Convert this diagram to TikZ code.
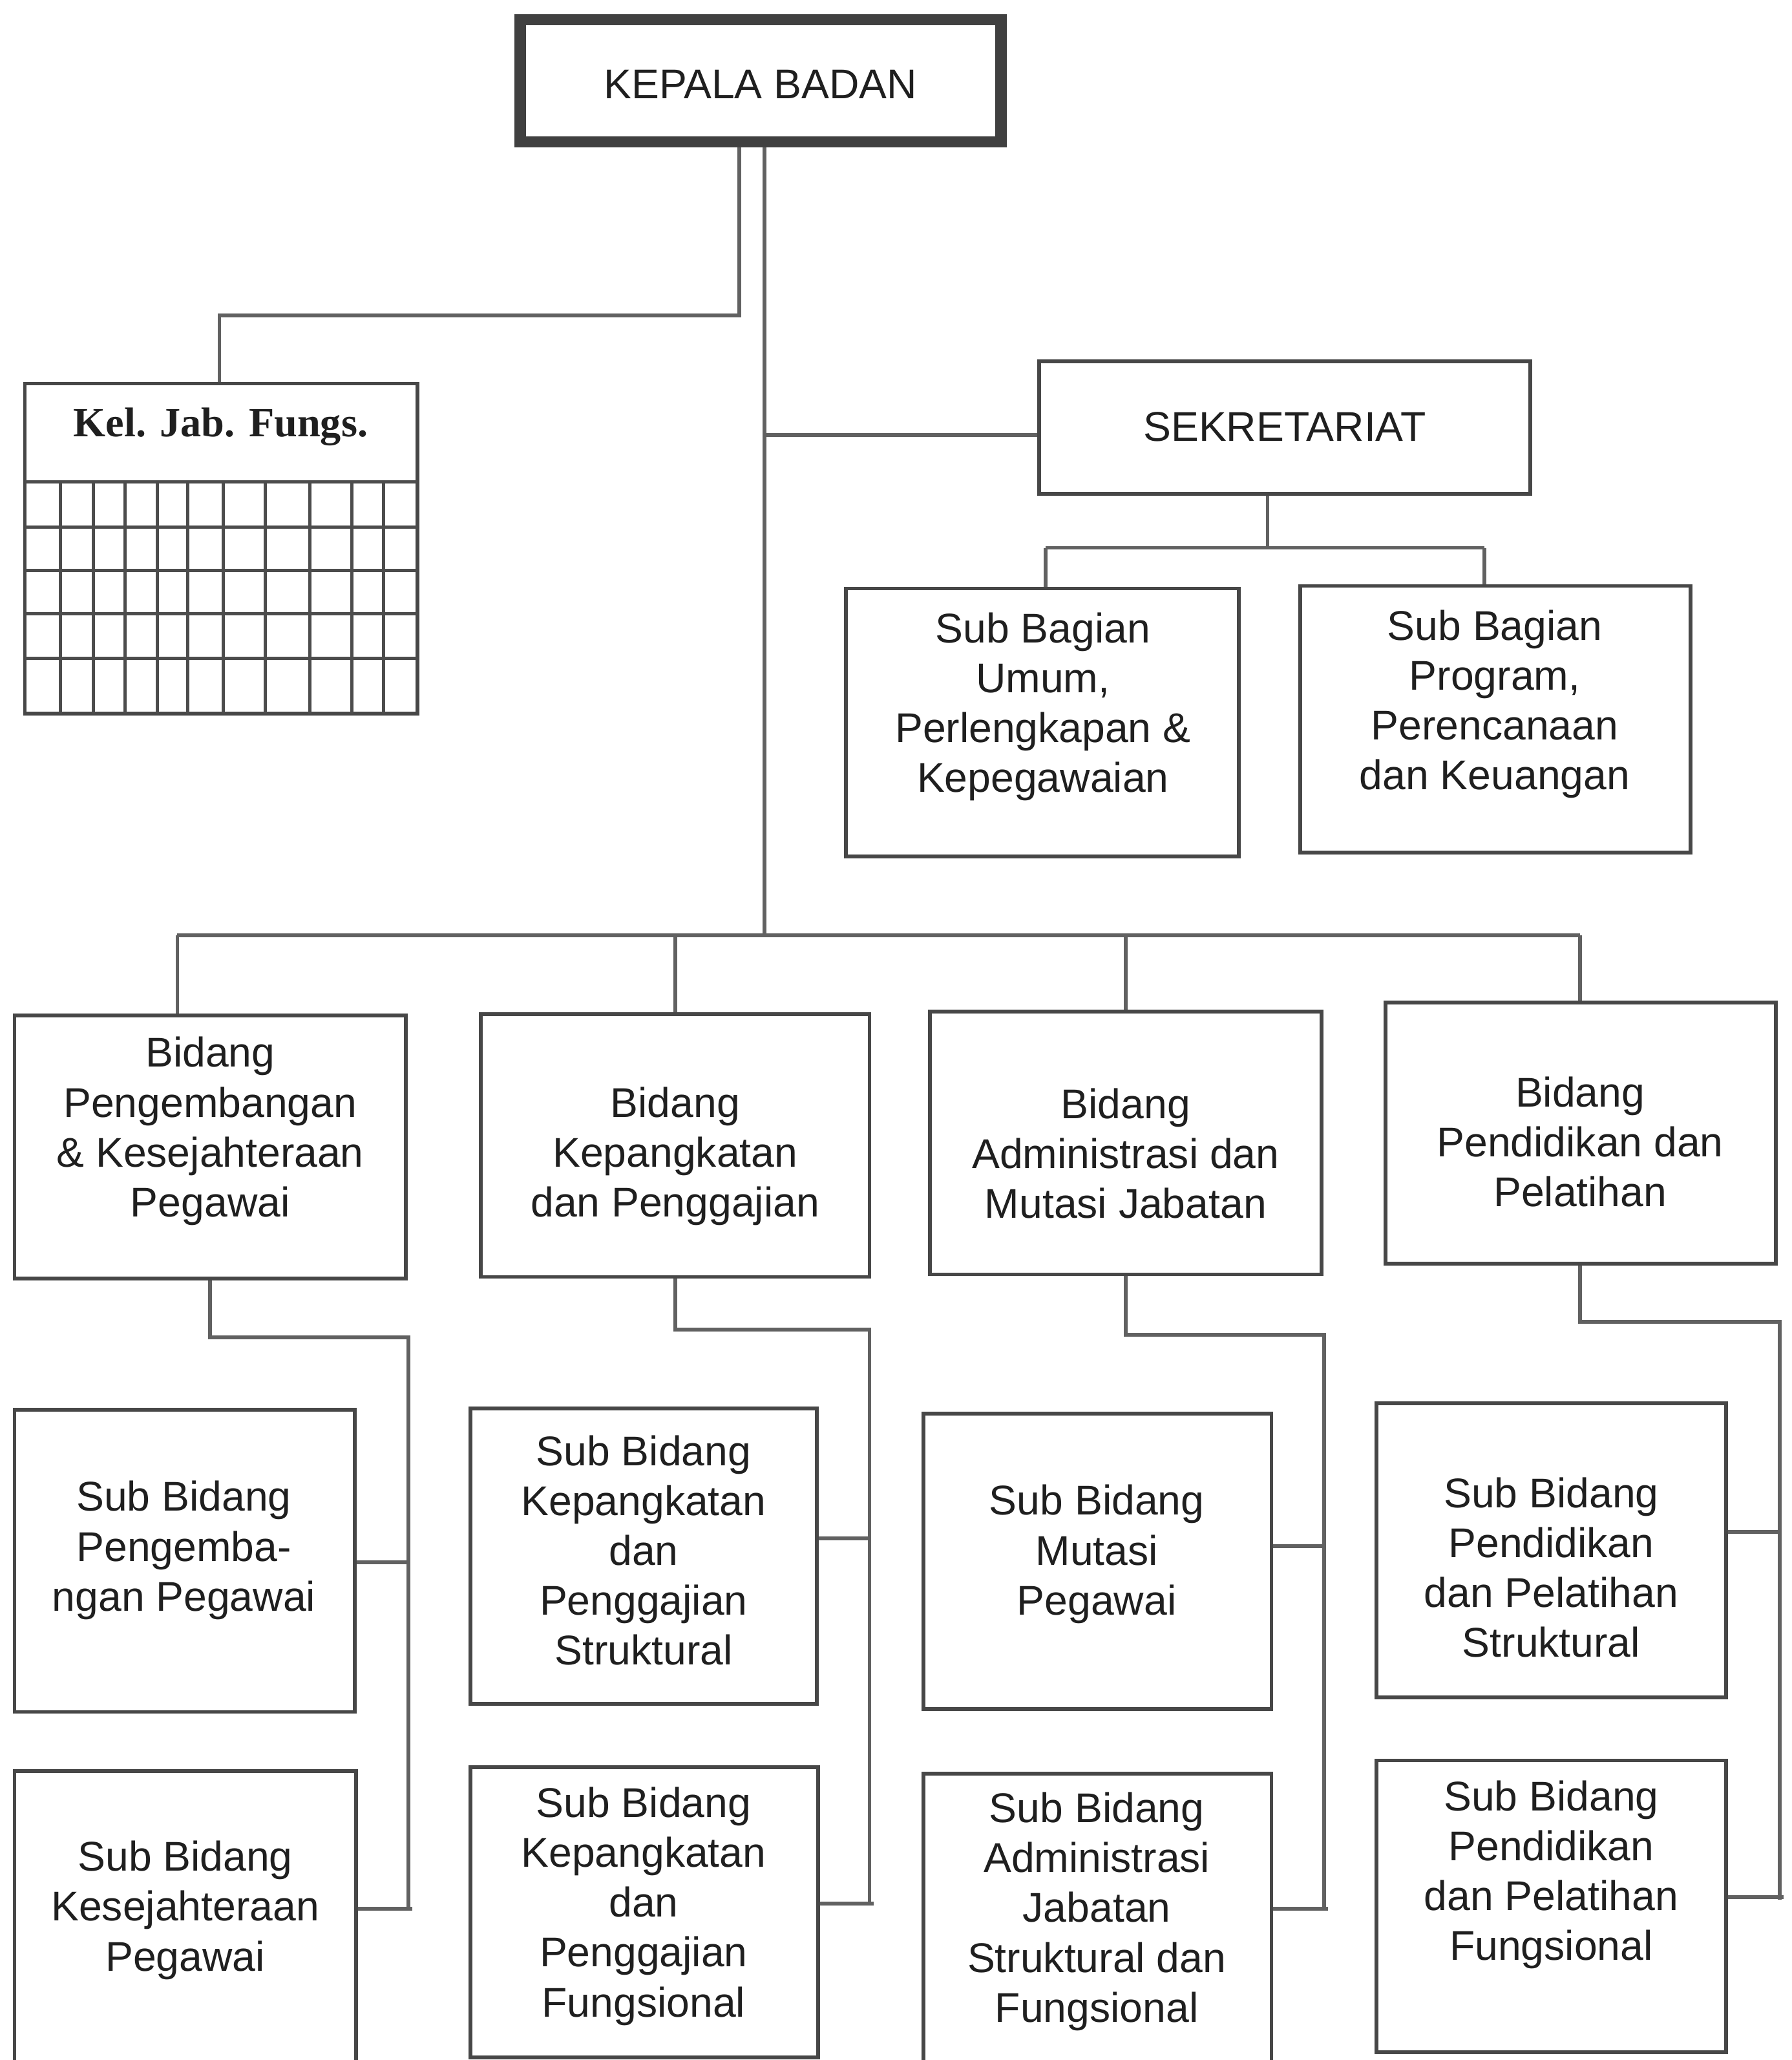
\documentclass[tikz,border=0pt]{standalone}
\usepackage{fontspec}
\setmainfont{Liberation Sans}
\newfontfamily\titleserif{Liberation Serif}
\usetikzlibrary{fit}

\begin{document}
\begin{tikzpicture}[x=0.02cm,y=-0.02cm,
  box/.style={draw=black!72, line width=1.6pt, inner sep=0pt},
  headbox/.style={draw=black!75, line width=5pt, inner sep=0pt},
  conn/.style={draw=black!62, line width=1.6pt},
  gridline/.style={draw=black!70, line width=1.4pt},
  txt/.style={font=\fontsize{18}{21.6}\selectfont, align=center, inner sep=0pt, text=black!88},
]
\useasboundingbox (0,0) rectangle (1364,1568);
\fill[white] (0,0) rectangle (1364,1568);

% ---------- top level ----------
\node[headbox, fit={(396,15) (762,108)}] (kepala) {};
\node[txt] (kepala-t) at (579,64) {KEPALA BADAN};

% functional group with grid
\node[box, fit={(19,292) (318,543)}] (kel) {};
\node[inner sep=0pt, font=\titleserif\bfseries\fontsize{18}{21.6}\selectfont, text=black!88] (kel-t) at (168,325) {Kel. Jab. Fungs.};
\draw[gridline] (19,367) -- (318,367);
\foreach \y in {401,434,467,501} \draw[gridline] (19,\y) -- (318,\y);
\foreach \x in {46,71,95,120,143,170,202,236,268,292} \draw[gridline] (\x,367) -- (\x,543);

% secretariat
\node[box, fit={(791,275) (1165,376)}] (sek) {};
\node[txt] (sek-t) at (978,325) {SEKRETARIAT};

\node[box, fit={(644,448) (943,652)}] (sbu) {};
\node[txt] (sbu-t) at (794,538) {Sub Bagian\\Umum,\\Perlengkapan \&\\Kepegawaian};
\node[box, fit={(990,446) (1287,649)}] (sbp) {};
\node[txt] (sbp-t) at (1138,536) {Sub Bagian\\Program,\\Perencanaan\\dan Keuangan};

% ---------- divisions ----------
\node[box, fit={(11,773) (309,973)}] (b1) {};
\node[txt] (b1-t) at (160,861) {Bidang\\Pengembangan\\\& Kesejahteraan\\Pegawai};
\node[box, fit={(366,772) (662,972)}] (b2) {};
\node[txt] (b2-t) at (514,880) {Bidang\\Kepangkatan\\dan Penggajian};
\node[box, fit={(708,770) (1006,970)}] (b3) {};
\node[txt] (b3-t) at (857,878) {Bidang\\Administrasi dan\\Mutasi Jabatan};
\node[box, fit={(1055,763) (1352,962)}] (b4) {};
\node[txt] (b4-t) at (1203,869) {Bidang\\Pendidikan dan\\Pelatihan};

% ---------- sub divisions ----------
\begin{scope}
\clip (0,0) rectangle (1364,1568);
\node[box, fit={(11,1073) (270,1303)}] (s1a) {};
\node[txt] (s1a-t) at (140,1180) {Sub Bidang\\Pengemba-\\ngan Pegawai};
\node[box, fit={(11,1348) (271,1600)}] (s1b) {};
\node[txt] (s1b-t) at (141,1454) {Sub Bidang\\Kesejahteraan\\Pegawai};

\node[box, fit={(358,1072) (622,1297)}] (s2a) {};
\node[txt] (s2a-t) at (490,1180) {Sub Bidang\\Kepangkatan\\dan\\Penggajian\\Struktural};
\node[box, fit={(358,1345) (623,1566)}] (s2b) {};
\node[txt] (s2b-t) at (490,1451) {Sub Bidang\\Kepangkatan\\dan\\Penggajian\\Fungsional};

\node[box, fit={(703,1076) (968,1301)}] (s3a) {};
\node[txt] (s3a-t) at (835,1183) {Sub Bidang\\Mutasi\\Pegawai};
\node[box, fit={(703,1350) (968,1600)}] (s3b) {};
\node[txt] (s3b-t) at (835,1455) {Sub Bidang\\Administrasi\\Jabatan\\Struktural dan\\Fungsional};

\node[box, fit={(1048,1068) (1314,1292)}] (s4a) {};
\node[txt] (s4a-t) at (1181,1193) {Sub Bidang\\Pendidikan\\dan Pelatihan\\Struktural};
\node[box, fit={(1048,1340) (1314,1562)}] (s4b) {};
\node[txt] (s4b-t) at (1181,1427) {Sub Bidang\\Pendidikan\\dan Pelatihan\\Fungsional};
\end{scope}

% ---------- connectors ----------
\coordinate (bus) at (582,712);
\coordinate (kelturn) at (563,240);
\coordinate (sekjoin) at (582,331);
\coordinate (sekbus) at (965,417);

% trunk and branch to the functional group
\draw[conn] (kepala.south -| bus) -- (bus);
\draw[conn] (kepala.south -| kelturn) -- (kelturn) -- (167,240) -- (kel.north -| 167,0);

% secretariat and its sub parts
\draw[conn] (sekjoin) -- (sekjoin -| sek.west);
\draw[conn] (sek.south -| sekbus) -- (sekbus);
\draw[conn] (796,417) -- (1130,417);
\draw[conn] (796,417) -- (sbu.north -| 796,0);
\draw[conn] (1130,417) -- (sbp.north -| 1130,0);

% division bus
\draw[conn] (135,712) -- (1203,712);
\draw[conn] (135,712) -- (b1.north -| 135,0);
\draw[conn] (514,712) -- (b2.north -| 514,0);
\draw[conn] (857,712) -- (b3.north -| 857,0);
\draw[conn] (1203,712) -- (b4.north -| 1203,0);

% division to sub divisions
\draw[conn] (b1.south -| 160,0) -- (160,1018) -- (311,1018) -- (311,1453);
\draw[conn] (s1a.east |- 0,1189) -- (311,1189);
\draw[conn] (s1b.east |- 0,1453) -- (314,1453);

\draw[conn] (b2.south -| 514,0) -- (514,1012) -- (662,1012) -- (662,1449);
\draw[conn] (s2a.east |- 0,1171) -- (662,1171);
\draw[conn] (s2b.east |- 0,1449) -- (665,1449);

\draw[conn] (b3.south -| 857,0) -- (857,1016) -- (1008,1016) -- (1008,1453);
\draw[conn] (s3a.east |- 0,1177) -- (1008,1177);
\draw[conn] (s3b.east |- 0,1453) -- (1011,1453);

\draw[conn] (b4.south -| 1203,0) -- (1203,1006) -- (1355,1006) -- (1355,1446);
\draw[conn] (s4a.east |- 0,1166) -- (1355,1166);
\draw[conn] (s4b.east |- 0,1444) -- (1358,1444);
\end{tikzpicture}
\end{document}
